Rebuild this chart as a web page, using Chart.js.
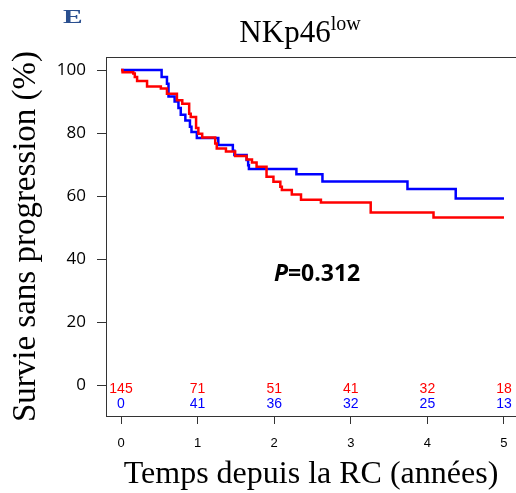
<!DOCTYPE html>
<html>
<head>
<meta charset="utf-8">
<script src="https://cdn.jsdelivr.net/npm/chart.js@4.4.1/dist/chart.umd.min.js"></script>
<style>
  body { margin: 0; background: #fff; }
  #wrap { width: 516px; height: 493px; }
</style>
</head>
<body>
<div id="wrap"><canvas id="kmChart" width="516" height="493"></canvas></div>
<script>
// Kaplan-Meier steps (years, % progression-free)
const timesRed = [0, 0.02, 0.16, 0.18, 0.21, 0.34, 0.52, 0.60, 0.73, 0.80, 0.89, 0.91, 0.98, 1.01, 1.06, 1.23, 1.25, 1.37, 1.49, 1.64, 1.71, 1.77, 1.90, 1.99, 2.08, 2.10, 2.23, 2.35, 2.61, 3.26, 4.08, 5.0];
const survRed  = [100, 99.3, 98.9, 97.8, 96.5, 94.8, 94.1, 92.5, 90.4, 89.3, 86.1, 85.1, 81.6, 79.8, 78.6, 76.7, 75.1, 74.1, 72.7, 71.6, 70.6, 69.3, 66.1, 64.5, 62.9, 61.9, 60.5, 58.8, 57.9, 54.8, 53.2, 53.2];

const timesBlue = [0, 0.53, 0.60, 0.62, 0.70, 0.75, 0.78, 0.84, 0.90, 0.92, 0.99, 1.27, 1.46, 1.48, 1.64, 1.66, 1.67, 2.29, 2.63, 3.74, 4.37, 5.0];
const survBlue  = [100, 97.8, 95.6, 91.6, 90.0, 87.9, 85.8, 84.0, 82.0, 80.3, 78.4, 76.2, 74.4, 73.0, 71.4, 69.8, 68.6, 66.9, 64.6, 62.2, 59.2, 59.2];

const xTicks = [0, 1, 2, 3, 4, 5];
const yTicks = [0, 20, 40, 60, 80, 100];

// number at risk
const atRiskRed  = [145, 71, 51, 41, 32, 18];
const atRiskBlue = [0, 41, 36, 32, 25, 13];

const pText = '0.312';

const toPoints = (xs, ys) => xs.map((x, i) => ({ x: x, y: ys[i] }));

const extras = {
    id: 'extras',
    afterDraw(chart) {
        const ctx = chart.ctx;
        const area = chart.chartArea;
        const xs = chart.scales.x;
        const ys = chart.scales.y;
        ctx.save();

        // top frame line
        ctx.strokeStyle = '#333';
        ctx.lineWidth = 1;
        ctx.beginPath();
        ctx.moveTo(area.left, area.top + 0.5);
        ctx.lineTo(chart.width, area.top + 0.5);
        ctx.stroke();

        // title NKp46 with superscript
        ctx.fillStyle = '#000';
        ctx.textBaseline = 'alphabetic';
        ctx.textAlign = 'left';
        ctx.font = '31px "Liberation Serif"';
        const main = 'NKp46';
        const wMain = ctx.measureText(main).width;
        ctx.font = '20px "Liberation Serif"';
        const wSup = ctx.measureText('low').width;
        const x0 = 300 - (wMain + wSup) / 2;
        ctx.font = '31px "Liberation Serif"';
        ctx.fillText(main, x0, 42);
        ctx.font = '20px "Liberation Serif"';
        ctx.fillText('low', x0 + wMain, 30);

        // panel letter
        ctx.save();
        ctx.fillStyle = '#2a4f8f';
        ctx.font = 'bold 19px "Liberation Serif"';
        ctx.translate(63, 23);
        ctx.scale(1.55, 1);
        ctx.fillText('E', 0, 0);
        ctx.restore();

        // p-value
        ctx.fillStyle = '#000';
        ctx.font = 'italic bold 23px "Open Sans"';
        const wp = ctx.measureText('P').width;
        ctx.font = 'bold 23px "Open Sans"';
        const wr = ctx.measureText('=' + pText).width;
        const px = xs.getPixelForValue(2.56) - (wp + wr) / 2;
        const py = ys.getPixelForValue(35.2);
        ctx.textBaseline = 'middle';
        ctx.font = 'italic bold 23px "Open Sans"';
        ctx.fillText('P', px, py);
        ctx.font = 'bold 23px "Open Sans"';
        ctx.fillText('=' + pText, px + wp, py);

        // numbers at risk
        ctx.textAlign = 'center';
        ctx.font = '14px "Liberation Sans"';
        xTicks.forEach((t, i) => {
            const cx = xs.getPixelForValue(t);
            ctx.fillStyle = '#ff0000';
            ctx.fillText(String(atRiskRed[i]), cx, ys.getPixelForValue(-1.3));
            ctx.fillStyle = '#0000ff';
            ctx.fillText(String(atRiskBlue[i]), cx, ys.getPixelForValue(-6));
        });
        ctx.restore();
    }
};

new Chart(document.getElementById('kmChart'), {
    type: 'scatter',
    data: {
        datasets: [
            {
                label: 'NKp46 low (rouge)',
                data: toPoints(timesRed, survRed),
                showLine: true,
                stepped: 'before',
                borderColor: '#ff0000',
                borderWidth: 2.5,
                pointRadius: 0,
                fill: false
            },
            {
                label: 'NKp46 low (bleu)',
                data: toPoints(timesBlue, survBlue),
                showLine: true,
                stepped: 'before',
                borderColor: '#0000ff',
                borderWidth: 2.5,
                pointRadius: 0,
                fill: false
            }
        ]
    },
    options: {
        responsive: false,
        animation: false,
        layout: { padding: { top: 57, right: 0, bottom: 0, left: 0 } },
        plugins: {
            legend: { display: false },
            tooltip: { enabled: false }
        },
        scales: {
            x: {
                type: 'linear',
                min: -0.196,
                max: 5.157,
                afterBuildTicks: s => { s.ticks = xTicks.map(v => ({ value: v })); },
                afterFit: s => { s.height = 77; s.paddingLeft = 0; s.paddingRight = 0; },
                grid: { display: true, drawOnChartArea: false, drawTicks: true, tickLength: 8, color: '#333' },
                border: { display: true, color: '#333', width: 1 },
                ticks: {
                    color: '#000',
                    padding: 12,
                    font: { family: 'Liberation Sans', size: 13 }
                },
                title: {
                    display: true,
                    text: 'Temps depuis la RC (années)',
                    color: '#000',
                    font: { family: 'Liberation Serif', size: 32, lineHeight: 1 },
                    padding: { top: 0, bottom: 2 }
                }
            },
            y: {
                type: 'linear',
                min: -9.84,
                max: 104.13,
                afterBuildTicks: s => { s.ticks = yTicks.map(v => ({ value: v })); },
                afterFit: s => { s.width = 106; s.paddingTop = 0; s.paddingBottom = 0; },
                grid: { display: true, drawOnChartArea: false, drawTicks: true, tickLength: 9, color: '#333' },
                border: { display: true, color: '#333', width: 1 },
                ticks: {
                    color: '#000',
                    padding: 11,
                    font: { family: 'Open Sans', size: 17 }
                },
                title: {
                    display: true,
                    text: 'Survie sans progression (%)',
                    color: '#000',
                    font: { family: 'Liberation Serif', size: 33, lineHeight: 1 },
                    padding: { top: 10, bottom: 0 }
                }
            }
        }
    },
    plugins: [extras]
});
</script>
</body>
</html>
